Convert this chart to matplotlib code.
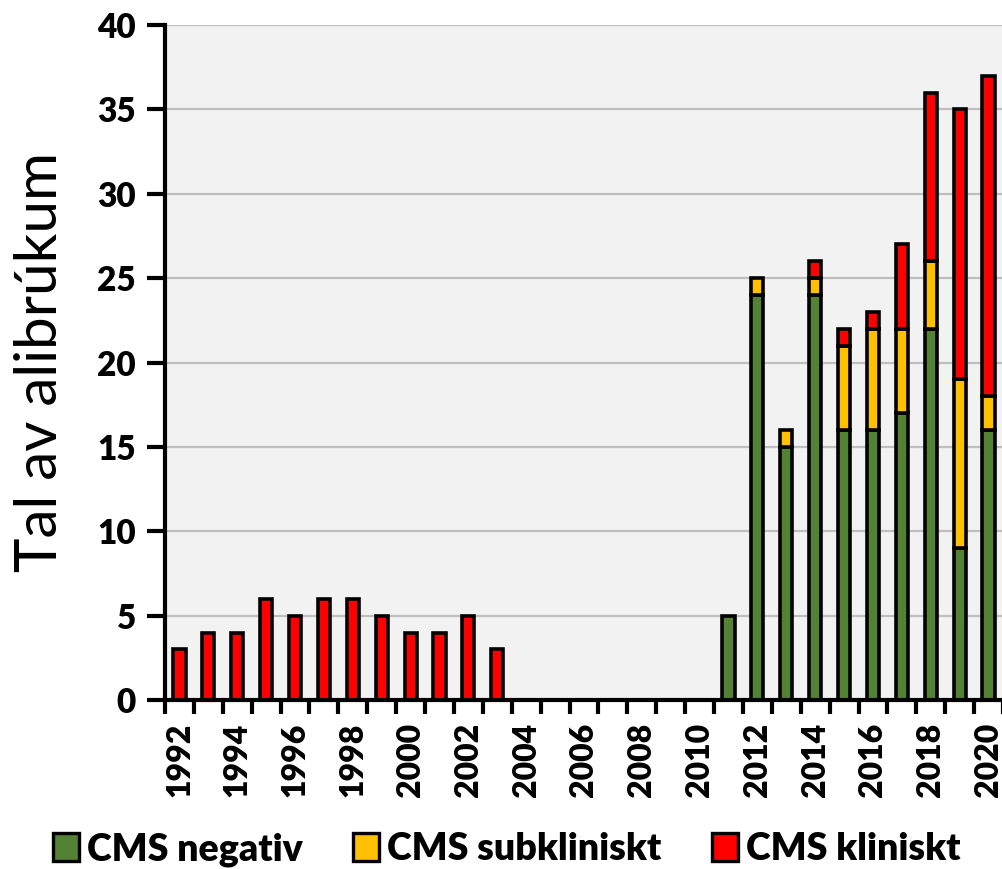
import matplotlib
matplotlib.use("Agg")
import matplotlib.pyplot as plt
import numpy as np
from matplotlib.patches import Patch

years = list(range(1992, 2021))
negativ = [0]*12 + [0]*7 + [5, 24, 15, 24, 16, 16, 17, 22, 9, 16]
subkliniskt = [0]*12 + [0]*7 + [0, 1, 1, 1, 5, 6, 5, 4, 10, 2]
kliniskt = [3, 4, 4, 6, 5, 6, 6, 5, 4, 4, 5, 3] + [0]*7 + [0, 0, 0, 1, 1, 1, 5, 10, 16, 19]
labels = ["CMS negativ", "CMS subkliniskt", "CMS kliniskt"]
colors = ["#548235", "#FFC000", "#FF0000"]
ylabel = "Tal av alibrúkum"

plt.rcParams['font.family'] = ['Lato', 'DejaVu Sans']

fig = plt.figure(figsize=(10.03, 8.69), dpi=100)
ax = fig.add_axes([165/1003, 1-700/869, 1-165/1003, 675/869])
ax.set_facecolor("#F2F2F2")

x = np.array(years)
neg = np.array(negativ); sub = np.array(subkliniskt); kl = np.array(kliniskt)
w = 0.42
lw = 2.6
for vals, bottom, c in [(neg, np.zeros_like(neg), colors[0]), (sub, neg, colors[1]), (kl, neg + sub, colors[2])]:
    m = vals > 0
    ax.bar(x[m], vals[m], bottom=bottom[m], width=w,
           color=c, edgecolor="black", linewidth=lw, zorder=3)

ax.set_ylim(0, 40)
ax.set_xlim(1991.5, 2020.35)
ax.set_yticks(range(0, 41, 5))
ax.grid(axis="y", color="#BFBFBF", linewidth=1.6, zorder=0)
ax.set_axisbelow(True)

for s in ["top", "right"]:
    ax.spines[s].set_visible(False)
for s in ["left", "bottom"]:
    ax.spines[s].set_linewidth(3)
    ax.spines[s].set_zorder(4)

ax.set_xticks(range(1992, 2021, 2))
ax.set_xticklabels([str(y) for y in range(1992, 2021, 2)], rotation=90,
                   fontsize=23, fontweight="heavy")
ax.set_xticks(np.arange(1991.5, 2021, 1), minor=True)
ax.tick_params(axis="x", which="major", length=0, pad=16.5)
ax.tick_params(axis="x", which="minor", length=10, width=3, direction="out")
ax.tick_params(axis="y", length=13, width=3, labelsize=24, pad=8)
for t in ax.get_yticklabels():
    t.set_fontweight("heavy")

ax.set_ylabel(ylabel, fontsize=42, labelpad=22)

handles = [Patch(facecolor=c, edgecolor="black", linewidth=2.4) for c in colors]
leg = fig.legend(handles, labels, loc="lower center", ncol=3, bbox_to_anchor=(0.505, -0.036),
                 frameon=False, prop={"size": 27, "weight": "heavy"},
                 handlelength=0.7, handleheight=0.75, handletextpad=0.2, columnspacing=1.35)

fig.savefig("out.png", dpi=100)
